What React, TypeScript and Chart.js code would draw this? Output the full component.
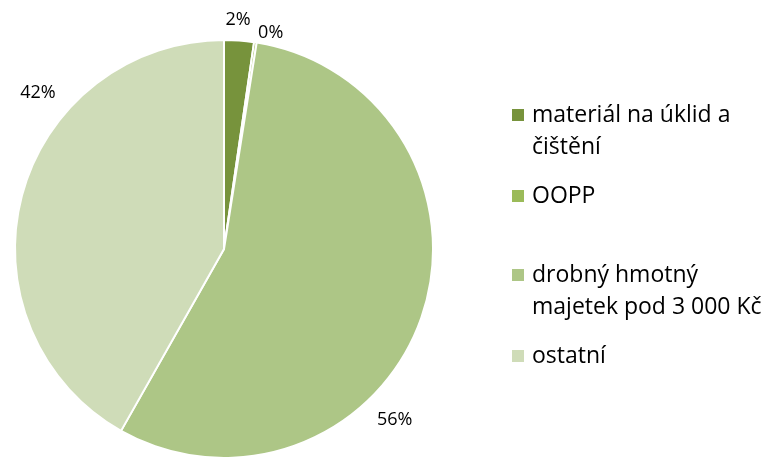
import React, { useEffect, useRef } from "react";
import { Chart, registerables } from "chart.js";

Chart.register(...registerables);

const categories = ["materiál na úklid a čištění", "OOPP", "drobný hmotný majetek pod 3 000 Kč", "ostatní"];
const legendLines = [["materiál na úklid a", "čištění"], ["OOPP"], ["drobný hmotný", "majetek pod 3 000 Kč"], ["ostatní"]];
const values = [2.3, 0.2, 55.7, 41.8];
const colors = ["#77933C", "#9BBB59", "#ADC686", "#CFDCB8"];
// label placement (degrees clockwise from top, distance relative to radius)
const labelAngles = [3.5, 12.2, 135, 310];
const labelDist = [1.097, 1.057, 1.155, 1.162];

const FONT = "'Open Sans', sans-serif";

const labelPlugin = {
  id: "outLabels",
  afterDraw(chart: any) {
    const ctx = chart.ctx;
    const meta = chart.getDatasetMeta(0);
    const total = values.reduce((a, b) => a + b, 0);
    ctx.save();
    ctx.fillStyle = "#000";
    ctx.font = `18px ${FONT}`;
    ctx.textAlign = "center";
    ctx.textBaseline = "middle";
    meta.data.forEach((arc: any, i: number) => {
      const r = arc.outerRadius * labelDist[i];
      const a = (labelAngles[i] * Math.PI) / 180;
      const x = arc.x + r * Math.sin(a);
      const y = arc.y - r * Math.cos(a);
      ctx.fillText(Math.round((values[i] / total) * 100) + "%", x, y);
    });
    // legend
    ctx.textAlign = "left";
    ctx.font = `23px ${FONT}`;
    const startY = 115;
    const itemGaps = [0, 81, 160, 241];
    legendLines.forEach((lines, i) => {
      const y0 = startY + itemGaps[i];
      ctx.fillStyle = colors[i];
      ctx.fillRect(512, y0 - 6, 12, 12);
      ctx.fillStyle = "#000";
      lines.forEach((t, j) => ctx.fillText(t, 532, y0 + j * 32));
    });
    ctx.restore();
  },
};

export default function App() {
  const ref = useRef<HTMLCanvasElement>(null);
  useEffect(() => {
    const chart = new Chart(ref.current!, {
      type: "pie",
      data: {
        labels: categories,
        datasets: [
          {
            data: values,
            backgroundColor: colors,
            borderColor: "#ffffff",
            borderWidth: 2,
          },
        ],
      },
      options: {
        responsive: false,
        animation: false,
        layout: { padding: { left: 14, top: 39, right: 334, bottom: 1 } },
        plugins: { legend: { display: false }, tooltip: { enabled: false } },
      },
      plugins: [labelPlugin],
    });
    return () => chart.destroy();
  }, []);
  return (
    <div style={{ position: "absolute", left: 0, top: 0, width: 768, height: 460, background: "#fff" }}>
      <canvas ref={ref} width={768} height={460} />
    </div>
  );
}
